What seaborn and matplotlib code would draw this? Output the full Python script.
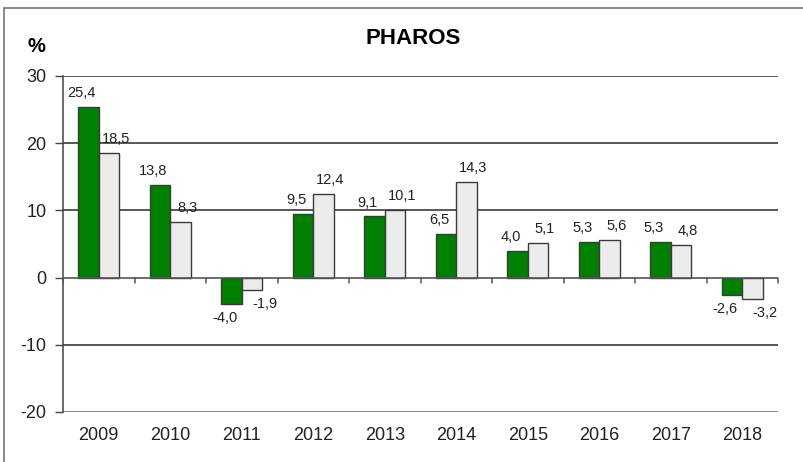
import matplotlib
matplotlib.use('Agg')
import matplotlib.pyplot as plt
import seaborn as sns
import pandas as pd
from matplotlib.lines import Line2D

years = ['2009', '2010', '2011', '2012', '2013', '2014', '2015', '2016', '2017', '2018']
series_a = [25.4, 13.8, -4.0, 9.5, 9.1, 6.5, 4.0, 5.3, 5.3, -2.6]
series_b = [18.5, 8.3, -1.9, 12.4, 10.1, 14.3, 5.1, 5.6, 4.8, -3.2]
series_names = ['A', 'B']
y_ticks = [-20, -10, 0, 10, 20, 30]

sns.set_theme(style='white')
plt.rcParams['font.family'] = ['Liberation Sans', 'DejaVu Sans']
plt.rcParams['axes.unicode_minus'] = False

df = pd.DataFrame({
    'year': years * 2,
    'value': series_a + series_b,
    'series': [series_names[0]] * len(years) + [series_names[1]] * len(years),
})

fig = plt.figure(figsize=(8.04, 4.62), dpi=100)
fig.patch.set_facecolor('white')
ax = fig.add_axes([63 / 804, 1 - 412 / 462, 715 / 804, 336 / 462])

sns.barplot(data=df, x='year', y='value', hue='series', order=years,
            hue_order=series_names, palette=['#008000', '#ececec'], saturation=1,
            width=0.57, edgecolor='#3a3a3a', linewidth=1.0, legend=False, ax=ax,
            zorder=3)

ax.set_xlim(-0.5, len(years) - 0.5)
ax.set_ylim(-20, 30)
ax.set_yticks(y_ticks)
ax.set_yticklabels([str(t) for t in y_ticks])
ax.set_xlabel('')
ax.set_ylabel('')

# gridlines
for t in y_ticks:
    if t == 0:
        continue
    ax.axhline(t, color='#2a2a2a' if t != -20 else '#666666', lw=1.1, zorder=1)
ax.axhline(0, color='#555555', lw=1.2, zorder=4)

# category boundary ticks on zero line
for b in range(len(years) + 1):
    ax.plot([b - 0.5, b - 0.5], [0, -0.75], color='#555555', lw=1.1, zorder=4,
            clip_on=False)

for s in ['top', 'right', 'bottom']:
    ax.spines[s].set_visible(False)
ax.spines['left'].set_color('#444444')
ax.spines['left'].set_linewidth(1.1)
ax.tick_params(axis='y', direction='out', length=6, width=1.0, color='#444444',
               labelsize=13, labelcolor='#222222', left=True, pad=6)
ax.tick_params(axis='x', length=0, labelsize=13, labelcolor='#222222', pad=11)

# data labels
for ci, cont in enumerate(ax.containers):
    dx = -5 if ci == 0 else 5
    for bar, v in zip(cont, series_a if ci == 0 else series_b):
        x = bar.get_x() + bar.get_width() / 2
        txt = f'{v:.1f}'.replace('.', ',')
        if v >= 0:
            ax.annotate(txt, (x, v), xytext=(dx, 5), textcoords='offset points',
                        ha='center', va='bottom', fontsize=10.5, color='#222222')
        else:
            ax.annotate(txt, (x, v), xytext=(dx + (4 if ci == 1 else 0), -5),
                        textcoords='offset points', ha='center', va='top',
                        fontsize=10.5, color='#222222')

fig.text(413 / 804, 1 - 38 / 462, 'PHAROS', ha='center', va='center',
         fontsize=16, fontweight='bold', color='black')
fig.text(36 / 804, 1 - 47 / 462, '%', ha='center', va='center',
         fontsize=14.5, fontweight='bold', color='black')

# outer frame (left and top edges)
fig.add_artist(Line2D([4 / 804, 4 / 804], [0, 1 - 7.5 / 462], transform=fig.transFigure,
                      color='#777777', lw=1.2))
fig.add_artist(Line2D([4 / 804, 1], [1 - 7.5 / 462, 1 - 7.5 / 462], transform=fig.transFigure,
                      color='#777777', lw=1.2))

fig.savefig('out.png', dpi=100, facecolor='white')
